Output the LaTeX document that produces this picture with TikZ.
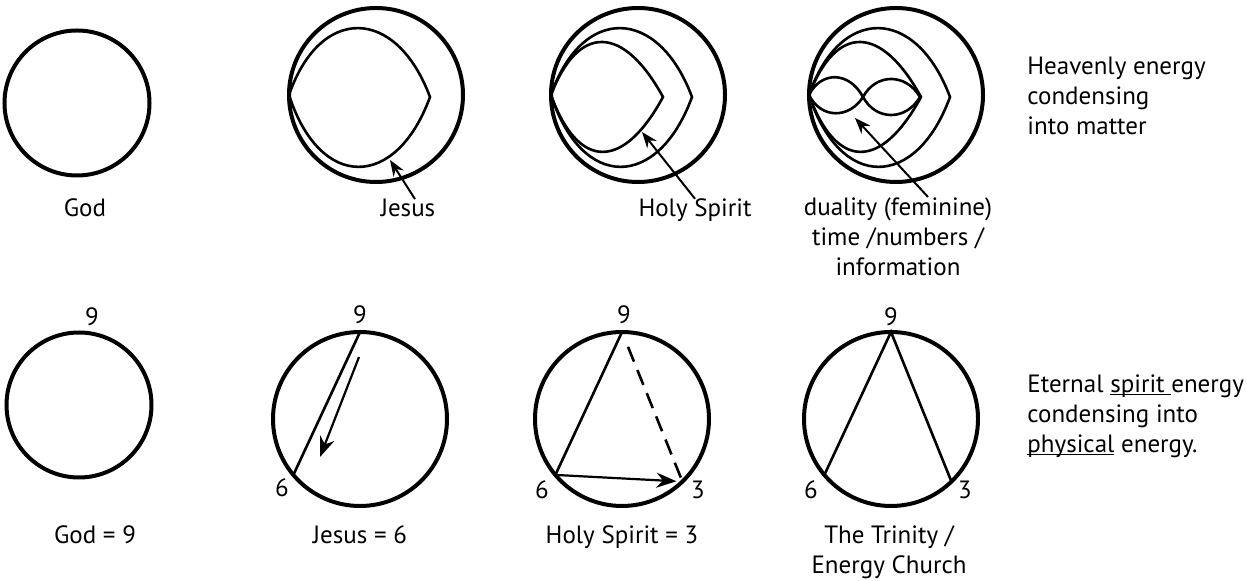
\documentclass[tikz,border=0pt]{standalone}
\usepackage{fontspec}
\setmainfont{PT Sans}
\usetikzlibrary{arrows.meta}

% underline set close to the baseline
\newcommand{\lowline}[1]{\setbox0\hbox{#1}\rlap{\rule[-1.6pt]{\wd0}{0.6pt}}\box0\relax}

\tikzset{
  ring/.style={draw, circle, line width=2pt, inner sep=0pt, outer sep=0pt},
  lens/.style={line width=1.3pt},
  chord/.style={line width=1.3pt},
  pointer/.style={line width=1pt, -{Stealth[length=8pt, width=6pt]}},
  bigpointer/.style={line width=1.1pt, -{Stealth[length=10pt, width=7.5pt]}},
  captext/.style={inner sep=0pt, anchor=base},
  sidetext/.style={inner sep=0pt, anchor=north west, align=left}
}

\begin{document}
\begin{tikzpicture}[x=0.5pt, y=-0.5pt, font=\fontsize{12.5}{15}\selectfont]
\useasboundingbox (0,0) rectangle (1247,581);

% top row: heavenly energy
\node (t1) [ring, minimum size=72.5pt] at (77,103) {};
\node (t2) [ring, minimum size=87pt] at (376,95) {};
\node (t3) [ring, minimum size=87pt] at (638,95) {};
\node (t4) [ring, minimum size=87pt] at (896,95) {};

\foreach \c in {t2,t3,t4} {
  \draw[lens, shift={(\c.center)}] (-87,0) .. controls (-56,-90) and (20,-89) .. (54,2)
    .. controls (20,95) and (-56,96) .. (-87,0);
}
\foreach \c in {t3,t4} {
  \draw[lens, shift={(\c.center)}] (-87,0) .. controls (-60,-71) and (-15,-71) .. (25,2)
    .. controls (-15,76) and (-60,75) .. (-87,0);
}
\draw[lens, shift={(t4.center)}] (-87,0) .. controls (-75,-24) and (-47,-24) .. (-33,2)
  .. controls (-20,26) and (10,26) .. (24,2);
\draw[lens, shift={(t4.center)}] (-87,0) .. controls (-75,24) and (-47,24) .. (-33,2)
  .. controls (-20,-22) and (10,-22) .. (24,2);

\coordinate (jtip) at (390,160);
\coordinate (htip) at (642,132);
\coordinate (dtip) at (855,118);

\node (god) [captext] at (85,217) {God};
\node (jesus) [captext] at (408,217) {Jesus};
\node (holy) [captext] at (695,217) {Holy Spirit};
\node (dual) [inner sep=0pt, anchor=north, align=center] at (898,197)
  {duality (feminine)\\time /numbers /\\information};

\draw[pointer] ([xshift=3.5pt]jesus.north) -- (jtip);
\draw[pointer] (holy.north) -- (htip);
\draw[pointer] ([xshift=15pt]dual.north) -- (dtip);

\node (heaven) [sidetext] at (1027,57) {Heavenly energy\\condensing\\into matter};

% bottom row: 9 - 6 - 3
\node (b1) [ring, minimum size=72.5pt] at (79,405) {};
\node (b2) [ring, minimum size=87pt] at (360,419) {};
\node (b3) [ring, minimum size=87pt] at (622,419) {};
\node (b4) [ring, minimum size=87pt] at (891,419) {};

\node (n1) [captext] at (92,326) {9};
\node (n2) [captext] at (360,324) {9};
\node (n3) [captext] at (624,324) {9};
\node (n4) [captext] at (891,326) {9};
\node (s2) [captext] at (282,497) {6};
\node (s3) [captext] at (542,499) {6};
\node (r3) [captext] at (698,499) {3};
\node (s4) [captext] at (811,499) {6};
\node (r4) [captext] at (965,499) {3};

\draw[chord] (b2.90) -- (b2.220);
\coordinate (fall) at (359,357);
\coordinate (land) at (320,457);
\draw[bigpointer] (fall) -- (land);

\draw[chord] (b3.90) -- (b3.220);
\draw[bigpointer, shorten >=3pt] (b3.220) -- (b3.314);
\draw[chord, dash pattern=on 8pt off 4.5pt, shorten <=8pt, shorten >=2pt] (b3.90) -- (b3.314);

\draw[chord] (b4.220) -- (b4.90) -- (b4.314);

\node (godnine) [captext] at (95,544) {God = 9};
\node (jesussix) [captext] at (360,544) {Jesus = 6};
\node (holythree) [captext] at (622,544) {Holy Spirit = 3};
\node (trinity) [inner sep=0pt, anchor=north, align=center] at (889,525)
  {The Trinity /\\Energy Church};

\node (eternal) [sidetext] at (1027,374)
  {Eternal \lowline{spirit\ }energy\\condensing into\\\lowline{physical} energy.};
\end{tikzpicture}
\end{document}
